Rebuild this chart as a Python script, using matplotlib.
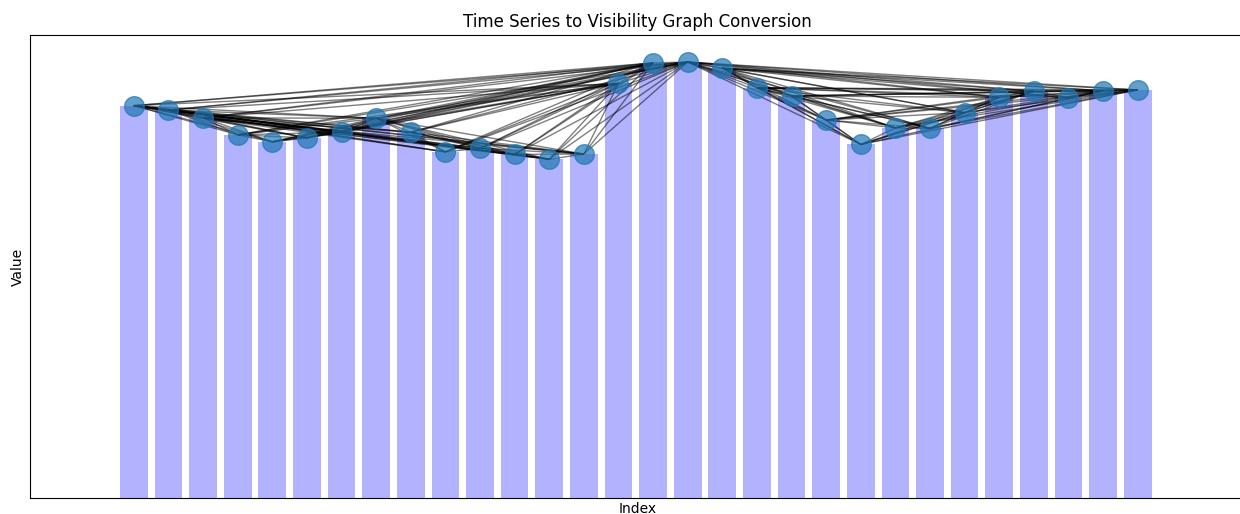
import matplotlib
matplotlib.use('Agg')
import matplotlib.pyplot as plt
import numpy as np
from matplotlib.collections import LineCollection

# time series values
index = list(range(30))
values = [90.0, 89.0, 87.2, 83.3, 81.7, 82.6, 83.9, 87.1, 83.9, 79.4,
          80.2, 78.8, 77.7, 78.9, 95.1, 99.8, 100.0, 98.6, 94.1, 92.2,
          86.7, 81.1, 84.9, 84.8, 88.4, 91.9, 93.3, 91.8, 93.4, 93.6]

title = 'Time Series to Visibility Graph Conversion'

# visibility edges: every point between two nodes must lie below the higher end
x = np.array(index, dtype=float)
y = np.array(values)
edges = []
for a in range(len(y)):
    for b in range(a + 1, len(y)):
        top = max(y[a], y[b])
        if all(y[c] < top for c in range(a + 1, b)):
            edges.append([(x[a], y[a]), (x[b], y[b])])

fig = plt.figure(figsize=(12.4, 5.14), dpi=100)
ax = fig.add_axes([30 / 1240, 16 / 514, 1215 / 1240, 463 / 514])

ax.bar(x, y, width=0.8, color='blue', alpha=0.3, zorder=1)
ax.add_collection(LineCollection(edges, colors='black', alpha=0.5, linewidths=1, zorder=2))
ax.scatter(x, y, s=200, color='#1f77b4', alpha=0.7, zorder=3)

ax.set_xlim(-3, 32.1)
ax.set_ylim(0, 106.2)
ax.set_xticks([])
ax.set_yticks([])
ax.set_title(title)
ax.set_xlabel('Index', labelpad=3)
ax.set_ylabel('Value')

fig.savefig('out.png', dpi=100)
